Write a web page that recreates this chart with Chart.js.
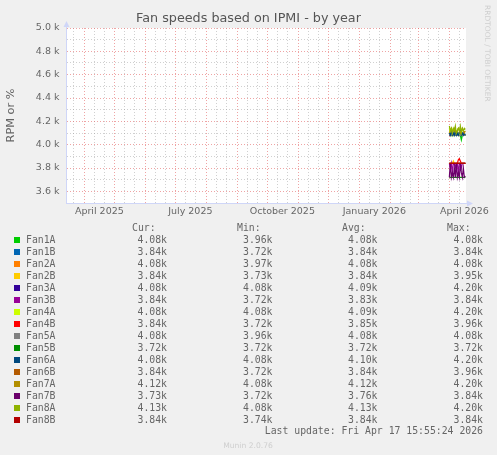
<!DOCTYPE html>
<html><head><meta charset="utf-8">
<script src="https://cdn.jsdelivr.net/npm/chart.js@4/dist/chart.umd.min.js"></script>
<style>
html,body{margin:0;padding:0;background:#f0f0f0;}
#wrap{position:relative;width:497px;height:455px;overflow:hidden;background:#f0f0f0;}
canvas{position:absolute;left:0;top:0;}
.t{position:absolute;white-space:pre;color:#666;}
.mono{font-family:'DejaVu Sans Mono',monospace;font-size:9.8px;line-height:12px;height:12px;}
.sq{position:absolute;width:6px;height:6px;}
</style></head><body>
<div id="wrap"><canvas id="c" width="497" height="455"></canvas></div>
<script>
// ---------- data ----------
const chartTitle = 'Fan speeds based on IPMI - by year';
const yAxisTitle = 'RPM or %';
const fanNames = ['Fan1A','Fan1B','Fan2A','Fan2B','Fan3A','Fan3B','Fan4A','Fan4B','Fan5A','Fan5B','Fan6A','Fan6B','Fan7A','Fan7B','Fan8A','Fan8B'];
const fanColors = ['#00cc00','#0066b3','#ff8000','#ffcc00','#330099','#990099','#ccff00','#ff0000','#808080','#008f00','#00487d','#b35a00','#b38f00','#6b006b','#8fb300','#b30000'];
const days = ['2026-04-01','2026-04-02','2026-04-03','2026-04-04','2026-04-05','2026-04-06','2026-04-07','2026-04-08','2026-04-09','2026-04-10','2026-04-11','2026-04-12','2026-04-13','2026-04-14','2026-04-15','2026-04-16','2026-04-17'];
const fan1A = [4080,4080,4080,4080,4080,4080,4080,4080,4080,4080,4080,4080,4040,4080,4080,4080,4080];
const fan1B = [3840,3840,3840,3840,3840,3840,3840,3840,3840,3840,3840,3840,3840,3840,3840,3840,3840];
const fan2A = [4080,4080,4080,4080,4080,4080,4080,4080,4080,4080,4080,4080,4080,4080,4080,4080,4080];
const fan2B = [3840,3840,3840,3840,3860,3840,3840,3840,3840,3840,3840,3840,3840,3840,3840,3840,3840];
const fan3A = [4080,4080,4100,4080,4080,4120,4080,4080,4080,4100,4080,4080,4080,4080,4100,4080,4080];
const fan3B = [3840,3800,3840,3760,3840,3840,3800,3840,3840,3760,3840,3840,3800,3840,3840,3840,3840];
const fan4A = [4140,4100,4080,4120,4080,4100,4080,4080,4120,4080,4100,4080,4080,4100,4080,4080,4080];
const fan4B = [3840,3840,3840,3840,3840,3840,3840,3840,3840,3870,3880,3860,3840,3840,3840,3840,3840];
const fan5A = [4080,4080,4080,4080,4080,4080,4080,4080,4080,4080,4080,4080,4080,4080,4080,4080,4080];
const fan5B = [3720,3720,3720,3720,3720,3720,3720,3720,3720,3720,3720,3720,3720,3720,3720,3720,3720];
const fan6A = [4100,4080,4120,4080,4100,4080,4120,4080,4100,4080,4100,4120,4080,4100,4080,4100,4080];
const fan6B = [3840,3840,3840,3840,3840,3840,3840,3840,3840,3840,3840,3840,3840,3840,3840,3840,3840];
const fan7A = [4100,4120,4140,4100,4120,4140,4120,4100,4120,4140,4120,4100,4120,4140,4120,4100,4120];
const fan7B = [3720,3840,3720,3760,3720,3800,3720,3840,3720,3760,3720,3840,3760,3720,3800,3720,3730];
const fan8A = [4160,4120,4140,4100,4140,4120,4160,4100,4120,4140,4120,4160,4100,4140,4120,4140,4130];
const fan8B = [3840,3840,3840,3840,3840,3840,3840,3840,3840,3840,3840,3840,3840,3840,3840,3840,3840];
const curText = ['4.08k','3.84k','4.08k','3.84k','4.08k','3.84k','4.08k','3.84k','4.08k','3.72k','4.08k','3.84k','4.12k','3.73k','4.13k','3.84k'];
const minText = ['3.96k','3.72k','3.97k','3.73k','4.08k','3.72k','4.08k','3.72k','3.96k','3.72k','4.08k','3.72k','4.08k','3.72k','4.08k','3.74k'];
const avgText = ['4.08k','3.84k','4.08k','3.84k','4.09k','3.83k','4.09k','3.85k','4.08k','3.72k','4.10k','3.84k','4.12k','3.76k','4.13k','3.84k'];
const maxText = ['4.08k','3.84k','4.08k','3.95k','4.20k','3.84k','4.20k','3.96k','4.08k','3.72k','4.20k','3.96k','4.20k','3.84k','4.20k','3.84k'];
const colHeaders = ['Cur:','Min:','Avg:','Max:'];
const xLabelDates = ['2025-04-16','2025-07-16','2025-10-16','2026-01-16','2026-04-16'];
const xLabelTexts = ['April 2025','July 2025','October 2025','January 2026','April 2026'];
const yTicks = [3500,3600,3700,3800,3900,4000,4100,4200,4300,4400,4500,4600,4700,4800,4900,5000];
const lastUpdate = 'Last update: Fri Apr 17 15:55:24 2026';
const versionText = 'Munin 2.0.76';
const watermark = 'RRDTOOL / TOBI OETIKER';
const endTime = '2026-04-17T15:55:24Z';
const spanDays = 400;
// ---------- build ----------
const series = [fan1A,fan1B,fan2A,fan2B,fan3A,fan3B,fan4A,fan4B,fan5A,fan5B,fan6A,fan6B,fan7A,fan7B,fan8A,fan8B];
const DAY = 864e5;
const endTs = Date.parse(endTime);
const startTs = endTs - spanDays*DAY;
const labelMap = new Map();
xLabelDates.forEach((d,i)=>labelMap.set(Date.parse(d+'T00:00:00Z'), xLabelTexts[i]));
const gridKinds = new Map();
{
  const s = new Date(startTs);
  let y = s.getUTCFullYear(), m = s.getUTCMonth();
  while (Date.UTC(y,m,1) <= endTs) {
    [1,11,21].forEach(d=>{ const t = Date.UTC(y,m,d); if (t>=startTs && t<=endTs) gridKinds.set(t, d===1?'major':'minor'); });
    m++; if (m>11){m=0;y++;}
  }
}
const xTickValues = [...gridKinds.keys(), ...labelMap.keys()].filter(v=>v>=startTs&&v<=endTs).sort((a,b)=>a-b);

const datasets = fanNames.map((n,i)=>({
  label:n,
  data: days.map((d,j)=>({x:Date.parse(d+'T00:00:00Z'), y:series[i][j]})),
  borderColor:fanColors[i], backgroundColor:fanColors[i],
  borderWidth:1.2, pointRadius:0, tension:0, fill:false,
  order: fanNames.length-1-i
}));

const AXIS = '#CFD6F8';
const GRID = 'rgba(150,150,150,0.45)';
const MGRID = 'rgba(225,90,90,0.55)';
const plotDeco = {
  id:'plotDeco',
  beforeDraw(chart){
    const {ctx, chartArea:a} = chart;
    ctx.save(); ctx.fillStyle='#ffffff';
    ctx.fillRect(a.left, a.top, a.right-a.left, a.bottom-a.top);
    ctx.restore();
  },
  afterDraw(chart){
    const {ctx, chartArea:a} = chart;
    ctx.save();
    ctx.strokeStyle = AXIS; ctx.fillStyle = AXIS; ctx.lineWidth = 1;
    const lx = Math.round(a.left)+0.5, by = Math.round(a.bottom)+0.5;
    ctx.beginPath(); ctx.moveTo(lx, a.top); ctx.lineTo(lx, a.top-4); ctx.stroke();
    ctx.beginPath(); ctx.moveTo(lx-3, a.top-1); ctx.lineTo(lx+3, a.top-1); ctx.lineTo(lx, a.top-7); ctx.closePath(); ctx.fill();
    ctx.beginPath(); ctx.moveTo(a.right, by); ctx.lineTo(a.right+4, by); ctx.stroke();
    ctx.beginPath(); ctx.moveTo(a.right+1, by-3); ctx.lineTo(a.right+1, by+3); ctx.lineTo(a.right+7, by); ctx.closePath(); ctx.fill();
    ctx.restore();
  }
};

new Chart(document.getElementById('c'), {
  type:'line',
  data:{datasets},
  plugins:[plotDeco],
  options:{
    responsive:false, animation:false, devicePixelRatio:1,
    layout:{padding:{left:0,right:0,top:0,bottom:232}},
    plugins:{
      legend:{display:false}, tooltip:{enabled:false},
      title:{display:true, text:chartTitle, color:'#555',
        font:{family:'DejaVu Sans', size:12.75, weight:'normal', lineHeight:1.2},
        padding:{top:11.35,bottom:1.35}}
    },
    scales:{
      x:{type:'linear', min:startTs, max:endTs,
        afterBuildTicks(s){ s.ticks = xTickValues.map(v=>({value:v})); },
        afterFit(s){ s.height = 20; },
        ticks:{autoSkip:false, maxRotation:0, minRotation:0, padding:3, color:'#666',
          font:{family:'DejaVu Sans', size:9.5},
          callback:(v)=> labelMap.has(v) ? labelMap.get(v) : ''},
        grid:{drawTicks:false, lineWidth:1,
          color:(c)=>{ const v=c.tick&&c.tick.value; const k=gridKinds.get(v); return k==='major'?MGRID:(k==='minor'?GRID:'rgba(0,0,0,0)'); }},
        border:{color:AXIS, width:1, dash:[1,2]}
      },
      y:{type:'linear', min:yTicks[0], max:yTicks[yTicks.length-1],
        afterBuildTicks(s){ s.ticks = yTicks.map(v=>({value:v})); },
        afterFit(s){ s.width = 66; },
        ticks:{autoSkip:false, padding:6.5, color:'#666', font:{family:'DejaVu Sans', size:9.5},
          callback:(v)=> (v%200===0 && v>yTicks[0]) ? (v/1000).toFixed(1)+' k' : ''},
        grid:{drawTicks:false, lineWidth:1,
          color:(c)=>{ const v=c.tick&&c.tick.value; if(v===yTicks[0]) return 'rgba(0,0,0,0)'; return v%200===0?MGRID:GRID; }},
        border:{color:AXIS, width:1, dash:[1,2]},
        title:{display:true, text:yAxisTitle, color:'#666', font:{family:'DejaVu Sans', size:11.3}, padding:{top:4.2,bottom:0}}
      },
      yRight:{type:'linear', position:'right', min:0, max:1,
        afterFit(s){ s.width = 31; },
        grid:{display:false}, border:{display:false}, ticks:{display:false}
      }
    }
  }
});

// ---------- legend (real text) ----------
const wrap = document.getElementById('wrap');
function addText(txt, cls, style){ const d=document.createElement('div'); d.className='t '+cls; d.textContent=txt; Object.assign(d.style, style); wrap.appendChild(d); return d; }
const headerLeft = [132,237,342,447];
colHeaders.forEach((h,i)=>addText(h,'mono',{left:headerLeft[i]+'px', top:(227.7-6)+'px'}));
const colRight = [167,272.5,377.5,483];
const cols = [curText,minText,avgText,maxText];
fanNames.forEach((n,i)=>{
  const cy = 239.7 + 12*i;
  const sq = document.createElement('div'); sq.className='sq';
  Object.assign(sq.style,{left:'14px', top:(cy-3)+'px', background:fanColors[i]}); wrap.appendChild(sq);
  addText(n,'mono',{left:'26px', top:(cy-6)+'px'});
  cols.forEach((col,k)=>addText(col[i],'mono',{right:(497-colRight[k])+'px', top:(cy-6)+'px', textAlign:'right'}));
});
addText(lastUpdate,'mono',{right:(497-483)+'px', top:(430.7-6)+'px'});
addText(versionText,'',{left:'0px', width:'496px', textAlign:'center', top:(445-4.5)+'px', fontFamily:'DejaVu Sans', fontSize:'7.6px', lineHeight:'9px', color:'#cfcfcf'});
const wm = addText(watermark,'',{left:'492px', top:'5px', fontFamily:'DejaVu Sans', fontSize:'7.5px', lineHeight:'9px', color:'#cfcfcf', transformOrigin:'0 0', transform:'rotate(90deg)'});
</script>
</body></html>
